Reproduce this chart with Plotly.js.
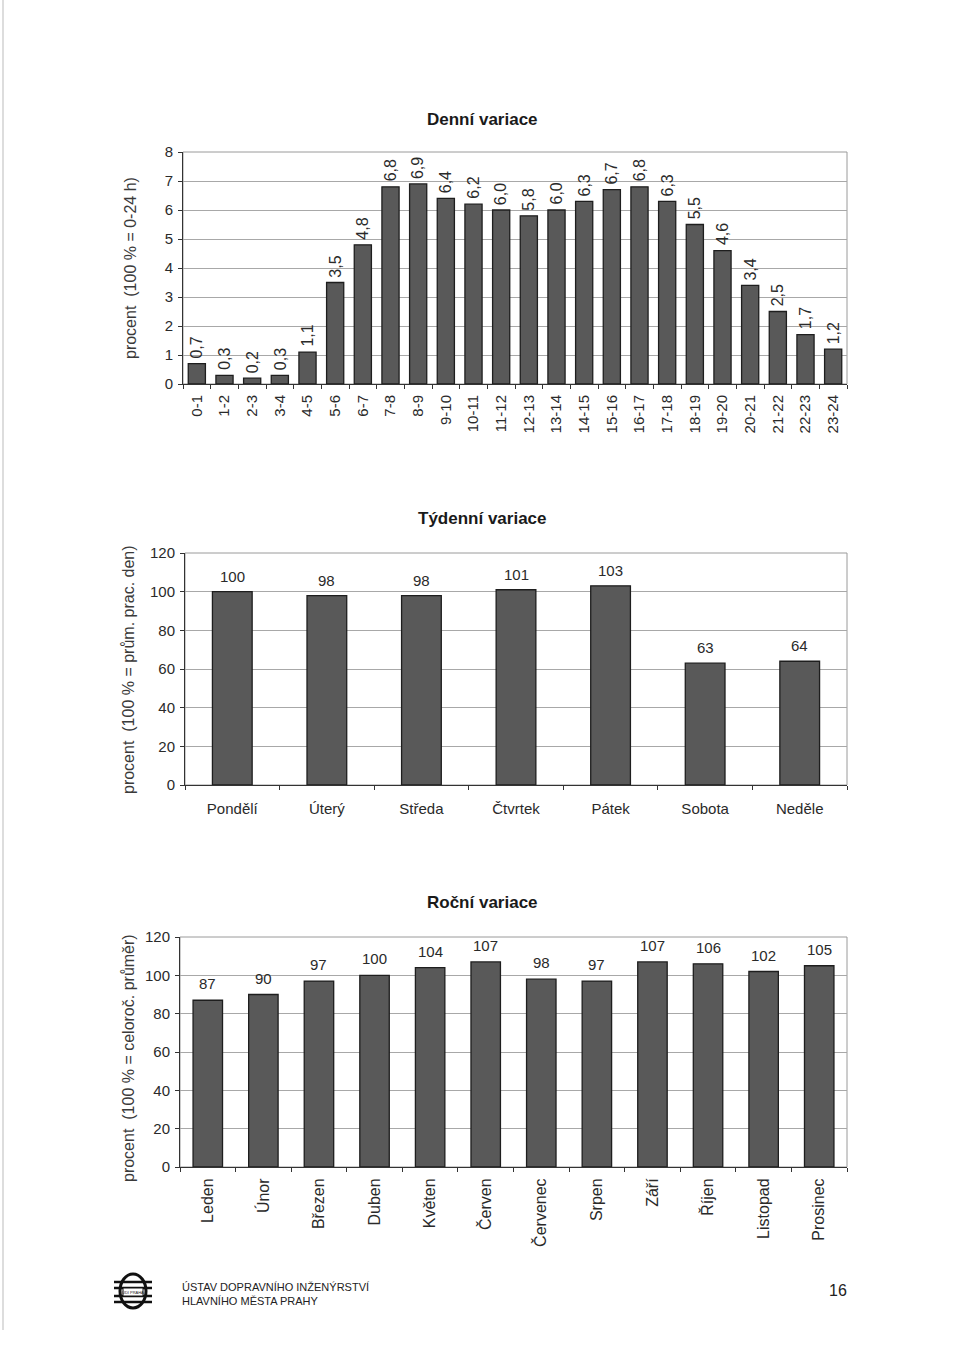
<!DOCTYPE html>
<html>
<head>
<meta charset="utf-8">
<script src="https://cdn.plot.ly/plotly-3.0.1.min.js"></script>
<style>
  body { margin: 0; background: #fff; }
  #chart { width: 960px; height: 1357px; }
</style>
</head>
<body>
<div id="chart"></div>
<script>
// hourly shares (denní variace)
var hourLabels = ["0-1","1-2","2-3","3-4","4-5","5-6","6-7","7-8","8-9","9-10","10-11","11-12",
  "12-13","13-14","14-15","15-16","16-17","17-18","18-19","19-20","20-21","21-22","22-23","23-24"];
var hourValues = [0.7,0.3,0.2,0.3,1.1,3.5,4.8,6.8,6.9,6.4,6.2,6.0,5.8,6.0,6.3,6.7,6.8,6.3,5.5,4.6,3.4,2.5,1.7,1.2];

// weekdays (týdenní variace)
var dayLabels = ["Pondělí","Úterý","Středa","Čtvrtek","Pátek","Sobota","Neděle"];
var dayValues = [100,98,98,101,103,63,64];

// months (roční variace)
var monthLabels = ["Leden","Únor","Březen","Duben","Květen","Červen","Červenec","Srpen","Září","Říjen","Listopad","Prosinec"];
var monthValues = [87,90,97,100,104,107,98,97,107,106,102,105];

var W = 960, H = 1357;
function px(x) { return x / W; }
function py(y) { return 1 - y / H; }

var font = "Liberation Sans, Arial, sans-serif";
var narrow = "Liberation Sans Narrow, Liberation Sans, Arial, sans-serif";
var barColor = "#595959";
var barLine = {color: "#1e1e1e", width: 1.3};

var data = [
  {x: hourLabels, y: hourValues, type: "bar", width: 0.62, xaxis: "x", yaxis: "y",
   marker: {color: barColor, line: barLine}, hoverinfo: "x+y"},
  {x: dayLabels, y: dayValues, type: "bar", width: 0.42, xaxis: "x2", yaxis: "y2",
   marker: {color: barColor, line: barLine}, hoverinfo: "x+y"},
  {x: monthLabels, y: monthValues, type: "bar", width: 0.53, xaxis: "x3", yaxis: "y3",
   marker: {color: barColor, line: barLine}, hoverinfo: "x+y"}
];

function xax(domain, anchor, angle, size, standoff) {
  return {domain: domain, anchor: anchor, type: "category", showline: true, linecolor: "#333",
    linewidth: 1, ticks: "outside", ticklen: 4, tickcolor: "#333", tickson: "boundaries",
    tickangle: angle, ticklabelstandoff: standoff,
    tickfont: {family: font, size: size, color: "#2a2a2a"},
    showgrid: false, fixedrange: true};
}
function yax(domain, anchor, range, dtick) {
  return {domain: domain, anchor: anchor, range: range, dtick: dtick, showline: true,
    linecolor: "#333", linewidth: 1, ticks: "outside", ticklen: 4, tickcolor: "#333",
    showgrid: true, gridcolor: "#a8a8a8", gridwidth: 1, zeroline: false,
    ticklabelstandoff: 2,
    tickfont: {family: font, size: 15, color: "#2a2a2a"}, fixedrange: true};
}

var annotations = [];

// titles
[["Denní variace", 119], ["Týdenní variace", 519], ["Roční variace", 902]].forEach(function(t) {
  annotations.push({text: "<b>" + t[0] + "</b>", xref: "paper", yref: "paper",
    x: px(482), y: py(t[1]), showarrow: false, xanchor: "center", yanchor: "middle",
    font: {family: narrow, size: 17, color: "#1a1a1a"}});
});

// y axis titles
[["procent  (100 % = 0-24 h)", 130, 268],
 ["procent  (100 % = prům. prac. den)", 128, 670],
 ["procent  (100 % = celoroč. průměr)", 128, 1058]].forEach(function(t) {
  annotations.push({text: t[0], xref: "paper", yref: "paper", x: px(t[1]), y: py(t[2]),
    textangle: -90, showarrow: false, xanchor: "center", yanchor: "middle",
    font: {family: font, size: 16, color: "#3a3a3a"}});
});

// value labels
hourLabels.forEach(function(c, i) {
  annotations.push({text: hourValues[i].toFixed(1).replace(".", ","), x: c, y: hourValues[i],
    xref: "x", yref: "y", textangle: -90, showarrow: false, xanchor: "center", yanchor: "bottom",
    yshift: 3, font: {family: font, size: 16, color: "#2a2a2a"}});
});
dayLabels.forEach(function(c, i) {
  annotations.push({text: String(dayValues[i]), x: c, y: dayValues[i], xref: "x2", yref: "y2",
    showarrow: false, xanchor: "center", yanchor: "bottom", yshift: 5,
    font: {family: narrow, size: 15, color: "#2a2a2a"}});
});
monthLabels.forEach(function(c, i) {
  annotations.push({text: String(monthValues[i]), x: c, y: monthValues[i], xref: "x3", yref: "y3",
    showarrow: false, xanchor: "center", yanchor: "bottom", yshift: 6,
    font: {family: narrow, size: 15, color: "#2a2a2a"}});
});

// footer
annotations.push({text: "ÚSTAV DOPRAVNÍHO INŽENÝRSTVÍ<br>HLAVNÍHO MĚSTA PRAHY", xref: "paper", yref: "paper",
  x: px(180), y: py(1294), xanchor: "left", yanchor: "middle", align: "left", showarrow: false,
  font: {family: narrow, size: 11, color: "#222"}});
annotations.push({text: "16", xref: "paper", yref: "paper", x: px(838), y: py(1290),
  xanchor: "center", yanchor: "middle", showarrow: false, font: {family: font, size: 16, color: "#222"}});
annotations.push({text: "ÚDI PRAHA", xref: "paper", yref: "paper", x: px(133), y: py(1292),
  xanchor: "center", yanchor: "middle", showarrow: false, font: {family: font, size: 4, color: "#222"}});

var shapes = [];
// light border on top/right of each plot area
["", "2", "3"].forEach(function(n) {
  shapes.push({type: "rect", xref: "x" + n + " domain", yref: "y" + n + " domain",
    x0: 0, x1: 1, y0: 0, y1: 1, line: {color: "#9a9a9a", width: 1}, layer: "below"});
});
// simple logo
shapes.push({type: "circle", xref: "paper", yref: "paper", x0: px(120), x1: px(146),
  y0: py(1308), y1: py(1274), line: {color: "#111", width: 3}});
[1282, 1288, 1296, 1302].forEach(function(yy) {
  shapes.push({type: "line", xref: "paper", yref: "paper", x0: px(114), x1: px(152),
    y0: py(yy), y1: py(yy), line: {color: "#111", width: 2.5}});
});
shapes.push({type: "rect", xref: "paper", yref: "paper", x0: px(123), x1: px(143),
  y0: py(1296), y1: py(1288), fillcolor: "#fff", line: {color: "#111", width: 1}});
// scan edge
shapes.push({type: "line", xref: "paper", yref: "paper", x0: px(3), x1: px(3), y0: py(0), y1: py(1330),
  line: {color: "#bbb", width: 1}});

var layout = {
  width: W, height: H,
  margin: {l: 0, r: 0, t: 0, b: 0},
  paper_bgcolor: "#fff", plot_bgcolor: "#fff",
  showlegend: false,
  font: {family: font, color: "#2a2a2a"},
  xaxis: xax([px(183), px(847)], "y", -90, 15, 4),
  yaxis: yax([py(384), py(152)], "x", [0, 8], 1),
  xaxis2: xax([px(185), px(847)], "y2", 0, 15, 10),
  yaxis2: yax([py(785), py(553)], "x2", [0, 120], 20),
  xaxis3: xax([px(180), px(847)], "y3", -90, 16, 4),
  yaxis3: yax([py(1167), py(937)], "x3", [0, 120], 20),
  annotations: annotations,
  shapes: shapes
};
layout.xaxis2.tickfont.family = narrow;

Plotly.newPlot("chart", data, layout, {displayModeBar: false, staticPlot: true});
</script>
</body>
</html>
